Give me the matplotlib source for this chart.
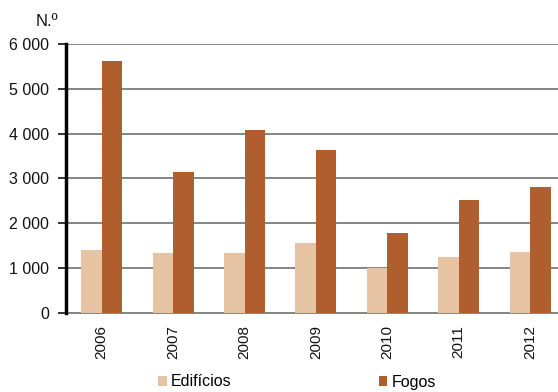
import matplotlib
matplotlib.use("Agg")
import matplotlib.pyplot as plt
import numpy as np

plt.rcParams["font.family"] = ["Liberation Sans", "DejaVu Sans"]

anos = ["2006", "2007", "2008", "2009", "2010", "2011", "2012"]
edificios = [1400, 1340, 1340, 1560, 1005, 1240, 1360]
fogos = [5630, 3150, 4070, 3630, 1775, 2520, 2815]

COR_EDIF = "#E6C3A2"
COR_FOGOS = "#B05E2E"

fig = plt.figure(figsize=(5.58, 3.92), dpi=100)
ax = fig.add_axes([66 / 558, 1 - 312.7 / 392, 1 - 66 / 558, (312.7 - 44) / 392])

x = np.arange(len(anos))
w = 0.287
ax.bar(x - w / 2, edificios, width=w, color=COR_EDIF, label="Edifícios", zorder=3)
ax.bar(x + w / 2, fogos, width=w, color=COR_FOGOS, label="Fogos", zorder=3)

ax.set_ylim(0, 6000)
ax.set_xlim(-0.5, 6.39)
ax.set_yticks(range(0, 6001, 1000))
ax.set_yticklabels(["0" if v == 0 else f"{v // 1000} 000" for v in range(0, 6001, 1000)])
ax.set_xticks(x)
ax.set_xticklabels(anos, rotation=90)

ax.grid(axis="y", color="#858585", linewidth=1.4, zorder=0)
for s in ("top", "right"):
    ax.spines[s].set_visible(False)
ax.spines["bottom"].set_color("#858585")
ax.spines["bottom"].set_linewidth(1.4)
ax.spines["left"].set_color("black")
ax.spines["left"].set_linewidth(2.5)
ax.spines["left"].set_zorder(4)
ax.tick_params(axis="y", length=6, width=1.2, labelsize=11.5, colors="#111111", pad=6)
ax.tick_params(axis="x", length=0, labelsize=11, colors="#111111", pad=9)

fig.text(36 / 558, 1 - 21 / 392, "N.º", fontsize=12, va="center", ha="left", color="#111111")

fig.legend(loc="center", bbox_to_anchor=(297 / 558, 1 - 382 / 392), ncol=2,
           frameon=False, fontsize=11.5, handlelength=0.55, handleheight=0.6,
           handletextpad=0.25, columnspacing=9.2, borderpad=0)

fig.savefig("out.png", dpi=100)
